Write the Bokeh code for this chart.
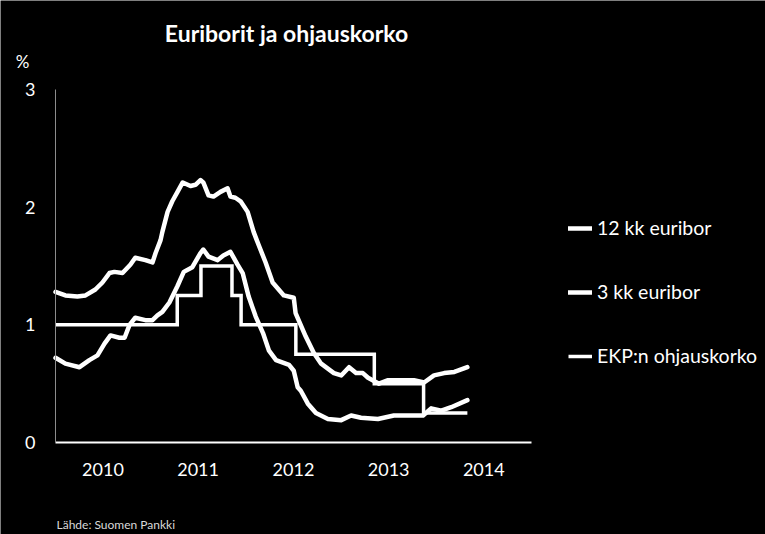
import pandas as pd
from bokeh.plotting import figure
from bokeh.models import (Range1d, FixedTicker, DatetimeTickFormatter, Legend,
                          LegendItem, Label, ColumnDataSource, DatetimeAxis, LinearAxis)
from bokeh.embed import file_html
from bokeh.resources import INLINE

# ---------------- data ----------------
title_text = "Euriborit ja ohjauskorko"
unit_text = "%"
source_text = "Lähde: Suomen Pankki"
series_names = ["12 kk euribor", "3 kk euribor", "EKP:n ohjauskorko"]
year_labels = [2010, 2011, 2012, 2013, 2014]
y_ticks = [0, 1, 2, 3]

e12_dates = ["2010-01-01", "2010-02-08", "2010-03-26", "2010-04-26", "2010-06-03",
             "2010-06-30", "2010-07-27", "2010-08-15", "2010-09-15", "2010-10-15",
             "2010-11-03", "2010-12-12", "2011-01-08", "2011-01-20", "2011-02-08",
             "2011-02-15", "2011-03-07", "2011-03-25", "2011-04-14", "2011-05-04",
             "2011-06-03", "2011-06-22", "2011-07-11", "2011-07-22", "2011-08-11",
             "2011-08-30", "2011-09-26", "2011-10-23", "2011-11-03", "2011-11-22",
             "2011-12-12", "2012-01-08", "2012-01-31", "2012-02-19", "2012-03-17",
             "2012-04-13", "2012-05-26", "2012-07-03", "2012-07-10", "2012-08-18",
             "2012-09-18", "2012-10-16", "2012-12-04", "2013-01-01", "2013-01-31",
             "2013-02-27", "2013-03-25", "2013-04-14", "2013-05-26", "2013-06-30",
             "2013-08-18", "2013-10-07", "2013-11-15", "2013-12-23", "2014-01-31",
             "2014-03-11", "2014-04-30"]
e12_values = [1.28, 1.25, 1.24, 1.25, 1.30,
              1.36, 1.44, 1.45, 1.44, 1.51,
              1.57, 1.55, 1.53, 1.61, 1.72,
              1.79, 1.96, 2.05, 2.13, 2.21,
              2.18, 2.19, 2.23, 2.21, 2.10,
              2.09, 2.13, 2.16, 2.09, 2.08,
              2.05, 1.96, 1.79, 1.68, 1.53,
              1.36, 1.25, 1.23, 1.10, 0.90,
              0.76, 0.67, 0.59, 0.57, 0.64,
              0.59, 0.59, 0.55, 0.50, 0.53,
              0.53, 0.53, 0.51, 0.57, 0.59,
              0.60, 0.64]

e3_dates = ["2010-01-01", "2010-02-08", "2010-04-03", "2010-05-11", "2010-06-11",
            "2010-07-08", "2010-07-31", "2010-09-03", "2010-09-23", "2010-10-12",
            "2010-11-03", "2010-12-12", "2011-01-08", "2011-01-27", "2011-02-15",
            "2011-03-14", "2011-04-14", "2011-05-08", "2011-06-10", "2011-07-11",
            "2011-07-22", "2011-08-11", "2011-09-15", "2011-10-07", "2011-11-03",
            "2011-12-01", "2011-12-20", "2012-01-12", "2012-02-08", "2012-03-07",
            "2012-03-30", "2012-04-26", "2012-06-15", "2012-07-03", "2012-07-18",
            "2012-07-30", "2012-08-26", "2012-09-26", "2012-11-11", "2013-01-01",
            "2013-02-08", "2013-03-18", "2013-05-22", "2013-07-22", "2013-09-26",
            "2013-11-11", "2013-12-12", "2014-01-20", "2014-02-27", "2014-04-30"]
e3_values = [0.72, 0.67, 0.64, 0.70, 0.74,
             0.84, 0.91, 0.89, 0.89, 1.00,
             1.06, 1.04, 1.04, 1.08, 1.11,
             1.19, 1.33, 1.45, 1.49, 1.61,
             1.64, 1.58, 1.55, 1.59, 1.62,
             1.51, 1.44, 1.24, 1.07, 0.93,
             0.78, 0.70, 0.66, 0.61, 0.47,
             0.44, 0.33, 0.25, 0.20, 0.19,
             0.23, 0.21, 0.20, 0.23, 0.23,
             0.23, 0.29, 0.27, 0.30, 0.36]

ecb_dates = ["2010-01-01", "2011-04-13", "2011-07-13", "2011-11-09", "2011-12-14",
             "2012-07-11", "2013-05-08", "2013-11-13", "2014-04-30"]
ecb_values = [1.00, 1.25, 1.50, 1.25, 1.00, 0.75, 0.50, 0.25, 0.25]

# ---------------- layout ----------------
FONT = "Lato"
WHITE = "#ffffff"
W, H = 765, 534
PL, PR, PT, PB = 55, 531, 89, 442          # plot area in pixels
x0, x1 = pd.Timestamp("2010-01-01").value / 1e6, pd.Timestamp("2015-01-01").value / 1e6
y0, y1 = 0.0, 3.0
ms_per_px = (x1 - x0) / (PR - PL)
u_per_px = (y1 - y0) / (PB - PT)

p = figure(width=W, height=H,
           x_range=Range1d(x0 - PL * ms_per_px, x1 + (W - PR) * ms_per_px),
           y_range=Range1d(y0 - (H - PB) * u_per_px, y1 + PT * u_per_px),
           x_axis_location=None, y_axis_location=None,
           output_backend="svg", toolbar_location=None,
           min_border=0)
p.background_fill_color = "black"
p.border_fill_color = "black"
p.outline_line_color = None
p.grid.visible = False

src12 = ColumnDataSource(dict(x=pd.to_datetime(e12_dates), y=e12_values))
src3 = ColumnDataSource(dict(x=pd.to_datetime(e3_dates), y=e3_values))
srcecb = ColumnDataSource(dict(x=pd.to_datetime(ecb_dates), y=ecb_values))

r12 = p.line("x", "y", source=src12, line_color=WHITE, line_width=4.5,
             line_join="round", line_cap="round")
r3 = p.line("x", "y", source=src3, line_color=WHITE, line_width=4.5,
            line_join="round", line_cap="round")
recb = p.step("x", "y", source=srcecb, mode="after", line_color=WHITE,
              line_width=3.5, line_join="miter")

# axes (fixed at the plot-area edges)
xa = DatetimeAxis(fixed_location=0, bounds=(x0, x1))
xa.ticker = FixedTicker(ticks=[pd.Timestamp(f"{y}-07-02").value / 1e6 for y in year_labels])
xa.formatter = DatetimeTickFormatter(days="%Y", months="%Y", years="%Y",
                                     hours="%Y", hourmin="%Y", minutes="%Y")
xa.axis_line_color = WHITE
xa.axis_line_width = 2
xa.major_tick_line_color = None
xa.minor_tick_line_color = None
xa.major_tick_out = 0
xa.major_tick_in = 0
xa.major_label_standoff = 20
xa.major_label_text_color = WHITE
xa.major_label_text_font = FONT
xa.major_label_text_font_size = "18px"
p.add_layout(xa, "below")

ya = LinearAxis(fixed_location=x0, bounds=(y0, y1))
ya.ticker = FixedTicker(ticks=y_ticks)
ya.axis_line_color = "#8c8c8c"
ya.axis_line_width = 1
ya.major_tick_line_color = None
ya.minor_tick_line_color = None
ya.major_tick_out = 0
ya.major_tick_in = 0
ya.major_label_standoff = 20
ya.major_label_text_color = WHITE
ya.major_label_text_font = FONT
ya.major_label_text_font_size = "18px"
p.add_layout(ya, "left")

# legend
legend = Legend(items=[LegendItem(label=series_names[0], renderers=[r12]),
                       LegendItem(label=series_names[1], renderers=[r3]),
                       LegendItem(label=series_names[2], renderers=[recb])],
                location=(568, 167))
legend.background_fill_alpha = 0
legend.border_line_color = None
legend.label_text_color = WHITE
legend.label_text_font = FONT
legend.label_text_font_size = "19.5px"
legend.glyph_width = 24
legend.glyph_height = 20
legend.label_height = 20
legend.spacing = 41
legend.padding = 10
legend.margin = 0
legend.label_standoff = 5
p.add_layout(legend, "center")

# texts (screen positions, y measured from the canvas bottom)
p.add_layout(Label(x=286, y=H - 32, x_units="screen", y_units="screen", text=title_text,
                   text_align="center", text_baseline="middle",
                   text_color=WHITE, text_font=FONT, text_font_size="23px",
                   text_font_style="bold"))
p.add_layout(Label(x=22, y=H - 61, x_units="screen", y_units="screen", text=unit_text,
                   text_align="center", text_baseline="middle",
                   text_color=WHITE, text_font=FONT, text_font_size="17px"))
p.add_layout(Label(x=56, y=H - 524, x_units="screen", y_units="screen", text=source_text,
                   text_align="left", text_baseline="middle",
                   text_color="#d9d9d9", text_font=FONT, text_font_size="12px"))

open("out.html", "w").write(file_html(p, INLINE))
